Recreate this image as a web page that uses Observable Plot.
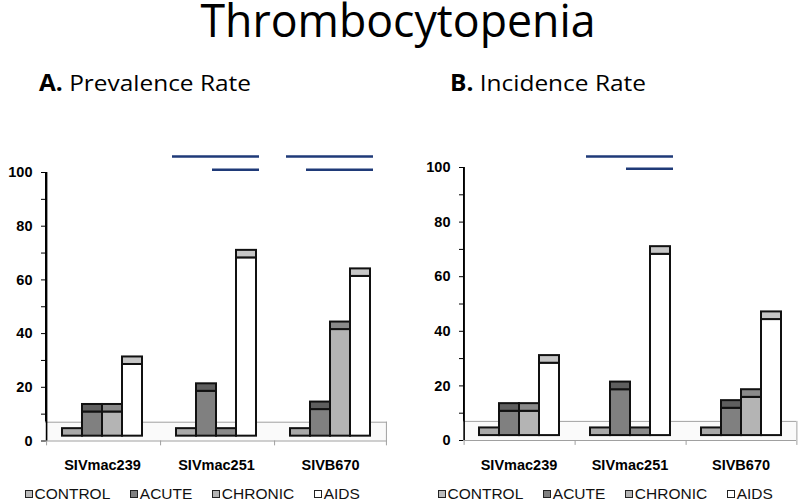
<!DOCTYPE html>
<html>
<head>
<meta charset="utf-8">
<script src="https://cdn.jsdelivr.net/npm/d3@7"></script>
<script src="https://cdn.jsdelivr.net/npm/@observablehq/plot@0.6"></script>
<style>
  body { margin: 0; background: #fff; }
  #root { position: relative; width: 800px; height: 503px; background: #fff; }
  #head { position: absolute; left: 0; top: 0; }
  .panel { position: absolute; top: 140px; width: 400px; }
  .legend { position: absolute; top: 486px; display: flex; gap: 20px; font-family: "Liberation Sans", Arial, sans-serif; font-size: 15.5px; line-height: 1; color: #111; white-space: nowrap; }
  .legend .item { display: flex; align-items: center; }
  .legend i { display: inline-block; width: 6px; height: 6px; border: 1.5px solid #222; margin-right: 1.5px; }
</style>
</head>
<body>
<div id="root">
  <svg id="head" width="800" height="110">
    <text x="398" y="37" text-anchor="middle" font-family="'Open Sans', sans-serif" font-size="45" fill="#000" textLength="395" lengthAdjust="spacingAndGlyphs">Thrombocytopenia</text>
    <text x="39" y="90.5" font-family="'Open Sans', sans-serif" font-size="22.5" fill="#000" textLength="212" lengthAdjust="spacingAndGlyphs"><tspan font-weight="bold">A.</tspan> Prevalence Rate</text>
    <text x="450" y="90.5" font-family="'Open Sans', sans-serif" font-size="22.5" fill="#000" textLength="196" lengthAdjust="spacingAndGlyphs"><tspan font-weight="bold">B.</tspan> Incidence Rate</text>
  </svg>
  <div id="panelA" class="panel" style="left:0px"></div>
  <div id="panelB" class="panel" style="left:400px"></div>
  <div id="legendA" class="legend" style="left:25px"></div>
  <div id="legendB" class="legend" style="left:438px"></div>
</div>
<script>
// ---------- data ----------
const strains = ["SIVmac239", "SIVmac251", "SIVB670"];
const stages = ["CONTROL", "ACUTE", "CHRONIC", "AIDS"];

// A. Prevalence rate (%), values in strain order
const prevalenceControl = [0, 0, 0];
const prevalenceAcute   = [9.0, 16.7, 9.9];
const prevalenceChronic = [9.0, 0, 39.7];
const prevalenceAids    = [26.7, 66.4, 59.5];

// B. Incidence rate (%), values in strain order
const incidenceControl = [0, 0, 0];
const incidenceAcute   = [8.9, 16.8, 10.0];
const incidenceChronic = [8.9, 0, 14.0];
const incidenceAids    = [26.5, 66.4, 42.5];

const yTicks = [0, 20, 40, 60, 80, 100];
const yMinorTicks = [10, 30, 50, 70, 90];

// significance bars: comparison between two stages within a strain, drawn at height y
const prevalenceSig = [
  {strain: "SIVmac251", from: "CONTROL", to: "AIDS", y: 106},
  {strain: "SIVmac251", from: "CHRONIC", to: "AIDS", y: 101},
  {strain: "SIVB670",   from: "CONTROL", to: "AIDS", y: 106},
  {strain: "SIVB670",   from: "ACUTE",   to: "AIDS", y: 101}
];
const incidenceSig = [
  {strain: "SIVmac251", from: "CONTROL", to: "AIDS", y: 104},
  {strain: "SIVmac251", from: "CHRONIC", to: "AIDS", y: 99.5}
];

// ---------- styles ----------
const frontColors = ["#bcbcbc", "#808080", "#b4b4b4", "#ffffff"];
const topColors   = ["#a9a9a9", "#5f5f5f", "#8a8a8a", "#c6c6c6"];
const sigColor = "#1f3a78";
const LIFT = 1.8;        // 3D: front face sits slightly behind the floor front edge
const TOP_DEPTH = 2.8;   // 3D: visible top face of each column
const FLOOR_DEPTH = 7;   // 3D: depth of the floor
const PAD_OUTER = 0.75;

function table(control, acute, chronic, aids) {
  const series = [control, acute, chronic, aids];
  return strains.flatMap((s, i) => stages.map((st, j) => ({strain: s, stage: st, value: series[j][i]})));
}
const front = d => frontColors[stages.indexOf(d.stage)];
const topc = d => topColors[stages.indexOf(d.stage)];

function panel(data, sig, m) {
  const W = 400, H = 340;
  const facetW = (W - m.left - m.right) / strains.length;
  const step = facetW / (stages.length + 2 * PAD_OUTER);
  const edge = (PAD_OUTER + 0.5) * step;
  const firstOfGroup = strains.map(s => ({strain: s, stage: stages[0]}));
  const lastOne = [{strain: strains[strains.length - 1], stage: stages[stages.length - 1]}];
  return Plot.plot({
    width: W, height: H,
    marginLeft: m.left, marginRight: m.right, marginTop: m.top, marginBottom: m.bottom,
    style: {fontFamily: "'Liberation Sans', Arial, sans-serif", fontSize: "14.5px", fontWeight: "bold", color: "#000", background: "transparent", overflow: "visible"},
    fx: {domain: strains, padding: 0, axis: "bottom", label: null, tickSize: 0, tickPadding: 19},
    x: {domain: stages, paddingInner: 0, paddingOuter: PAD_OUTER, axis: null},
    y: {domain: [0, 100], ticks: [...yTicks, ...yMinorTicks], tickFormat: d => yTicks.includes(d) ? String(d) : "", tickSize: 4, tickPadding: 9, label: null, line: true},
    color: {type: "identity"},
    marks: [
      Plot.rect([{}], {y1: () => 0, y2: () => FLOOR_DEPTH, fill: "#fafafa"}),
      Plot.ruleY([0, FLOOR_DEPTH], {stroke: "#a0a0a0", strokeWidth: 1}),
      Plot.ruleX(firstOfGroup, {fx: "strain", x: "stage", dx: -edge, y1: () => -1.8, y2: () => 0, stroke: "#a0a0a0"}),
      Plot.ruleX(lastOne, {fx: "strain", x: "stage", dx: edge, y1: () => -1.8, y2: () => FLOOR_DEPTH, stroke: "#a0a0a0"}),
      Plot.barY(data.filter(d => d.value > 0), {fx: "strain", x: "stage", y1: () => LIFT, y2: d => LIFT + d.value, fill: front, stroke: "#111", strokeWidth: 2}),
      Plot.barY(data, {fx: "strain", x: "stage", y1: d => LIFT + d.value, y2: d => LIFT + d.value + TOP_DEPTH, fill: topc, stroke: "#111", strokeWidth: 2}),
      Plot.ruleY(sig, {fx: "strain", x1: "from", x2: "to", y: "y", stroke: sigColor, strokeWidth: 2.5, insetLeft: -4, insetRight: -3}),
      // value axis line
      Plot.ruleX([firstOfGroup[0]], {fx: "strain", x: "stage", dx: -edge, y1: () => 0, y2: () => 100, stroke: "#000", strokeWidth: 1.6})
    ]
  });
}

document.getElementById("panelA").append(
  panel(table(prevalenceControl, prevalenceAcute, prevalenceChronic, prevalenceAids), prevalenceSig,
        {left: 45, right: 13, top: 32, bottom: 39.5}));
document.getElementById("panelB").append(
  panel(table(incidenceControl, incidenceAcute, incidenceChronic, incidenceAids), incidenceSig,
        {left: 62, right: 3, top: 27, bottom: 40}));

for (const id of ["legendA", "legendB"]) {
  const el = document.getElementById(id);
  stages.forEach((st, i) => {
    const item = document.createElement("span");
    item.className = "item";
    const sw = document.createElement("i");
    sw.style.background = frontColors[i];
    item.append(sw, document.createTextNode(st));
    el.append(item);
  });
}
</script>
</body>
</html>
